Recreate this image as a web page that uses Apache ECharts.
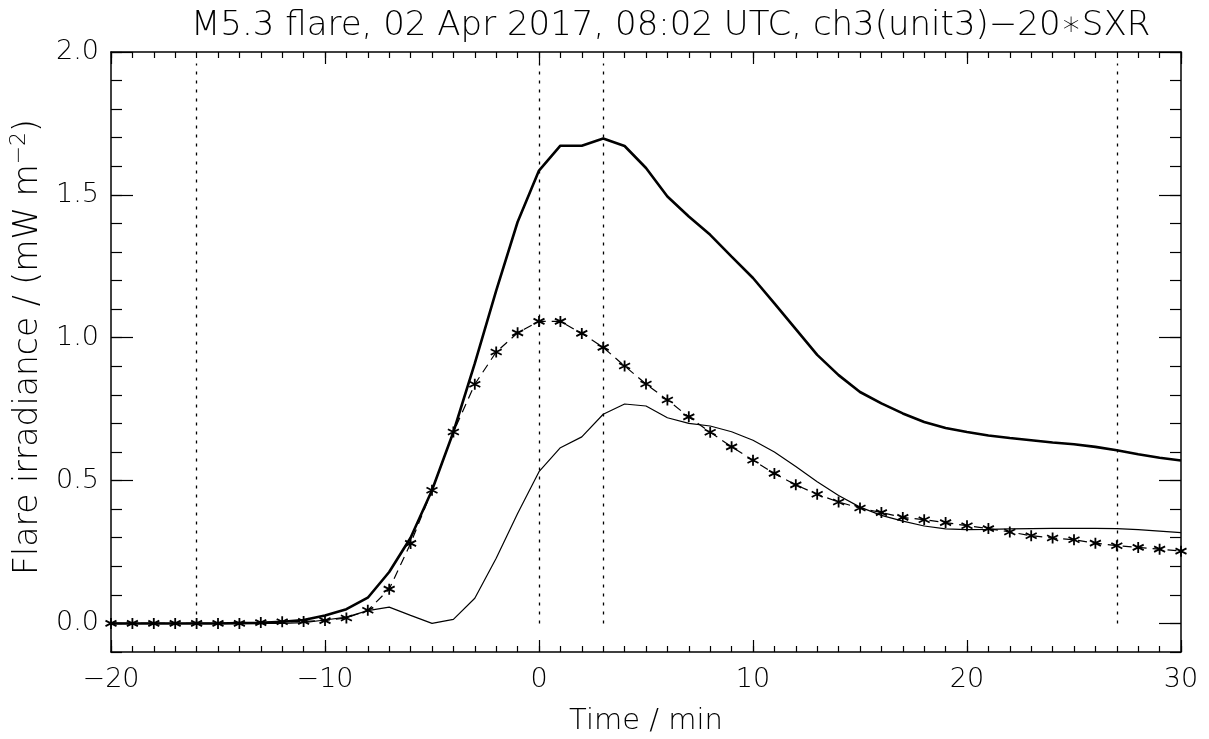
<!DOCTYPE html>
<html>
<head>
<meta charset="utf-8">
<script src="https://cdn.jsdelivr.net/npm/echarts@6/dist/echarts.min.js"></script>
<style>html,body{margin:0;padding:0;background:#fff}#c{width:1209px;height:739px}</style>
</head>
<body>
<div id="c"></div>
<script>
const times = [-20,-19,-18,-17,-16,-15,-14,-13,-12,-11,-10,-9,-8,-7,-6,-5,-4,-3,-2,-1,0,1,2,3,4,5,6,7,8,9,10,11,12,13,14,15,16,17,18,19,20,21,22,23,24,25,26,27,28,29,30];
const ch3Total = [0,0,0,0,0,0,0.001,0.002,0.006,0.012,0.028,0.05,0.09,0.18,0.30,0.466,0.67,0.91,1.165,1.405,1.585,1.672,1.672,1.697,1.671,1.594,1.494,1.424,1.36,1.284,1.209,1.12,1.03,0.94,0.869,0.81,0.77,0.735,0.705,0.684,0.67,0.658,0.649,0.641,0.633,0.627,0.618,0.606,0.592,0.58,0.57];
const ch3Corrected = [0,0,0,0,0,0,0,0,0,0.003,0.012,0.022,0.045,0.057,0.028,0.0,0.014,0.088,0.228,0.385,0.531,0.615,0.653,0.732,0.768,0.761,0.72,0.70,0.691,0.671,0.641,0.60,0.549,0.496,0.448,0.407,0.378,0.358,0.341,0.331,0.328,0.329,0.331,0.332,0.333,0.333,0.333,0.332,0.328,0.323,0.318];
const sxrScaled = [0,0,0,0,0,0,0,0.003,0.006,0.007,0.01,0.019,0.046,0.12,0.28,0.466,0.67,0.837,0.95,1.017,1.057,1.057,1.015,0.966,0.901,0.838,0.782,0.723,0.669,0.618,0.571,0.525,0.485,0.452,0.425,0.404,0.388,0.371,0.363,0.353,0.342,0.332,0.32,0.307,0.299,0.293,0.281,0.272,0.266,0.26,0.253];
const markerTimes = [-16,0,3,27];
const xTickLabels = [-20,-10,0,10,20,30];
const yTickLabels = [0,0.5,1.0,1.5,2.0];
const titleText = 'M5.3 flare, 02 Apr 2017, 08:02 UTC, ch3(unit3)\u221220\u2217SXR';

const FONT = 'DejaVu Sans';
const W = 200;
const pair = (xs, ys) => xs.map((x, i) => [x, ys[i]]);
const minus = v => String(v).replace('-', '\u2212');

const xBase = {type:'value', min:-20, max:30, splitLine:{show:false}};
const yBase = {type:'value', min:-0.1, max:2.0, splitLine:{show:false}};
const line = show => ({show:show, onZero:false, lineStyle:{color:'#000', width:1.5}});
const tick = (len, extra) => Object.assign({show:true, inside:true, length:len, lineStyle:{color:'#000', width:1.2}}, extra || {});

const chart = echarts.init(document.getElementById('c'));
chart.setOption({
  backgroundColor:'#fff',
  animation:false,
  title:{text:titleText, left:186, top:4,
    textStyle:{fontFamily:FONT, fontSize:34, fontWeight:W, color:'#000'}},
  grid:{left:111, right:28, top:52, bottom:87, containLabel:false, outerBoundsMode:'none'},
  xAxis:[
    Object.assign({}, xBase, {position:'bottom', interval:10, axisLine:line(true),
      axisTick:tick(12),
      axisLabel:{show:true, margin:14, fontFamily:FONT, fontSize:27, fontWeight:W, color:'#000',
        customValues:xTickLabels, formatter:v => minus(v)},
      name:'Time / min', nameLocation:'middle', nameGap:55,
      nameTextStyle:{fontFamily:FONT, fontSize:29, fontWeight:W, color:'#000'}}),
    Object.assign({}, xBase, {position:'bottom', interval:1, axisLine:line(false), axisLabel:{show:false},
      axisTick:tick(6)}),
    Object.assign({}, xBase, {position:'top', interval:10, axisLine:line(true), axisLabel:{show:false},
      axisTick:tick(12)}),
    Object.assign({}, xBase, {position:'top', interval:1, axisLine:line(false), axisLabel:{show:false},
      axisTick:tick(6)})
  ],
  yAxis:[
    Object.assign({}, yBase, {position:'left', axisLine:line(true),
      axisTick:tick(22, {customValues:yTickLabels}),
      axisLabel:{show:true, margin:12, fontFamily:FONT, fontSize:27, fontWeight:W, color:'#000',
        customValues:yTickLabels, formatter:v => v.toFixed(1)},
      name:'Flare irradiance / (mW m{sup|\u22122})', nameLocation:'middle', nameGap:62, nameRotate:90,
      nameTextStyle:{fontFamily:FONT, fontSize:33, fontWeight:W, color:'#000', padding:[0,0,0,10],
        rich:{sup:{fontFamily:FONT, fontSize:22, fontWeight:W, color:'#000', verticalAlign:'top', padding:[0,0,18,0]}}}}),
    Object.assign({}, yBase, {position:'left', interval:0.1, axisLine:line(false), axisLabel:{show:false},
      axisTick:tick(11)}),
    Object.assign({}, yBase, {position:'right', axisLine:line(true), axisLabel:{show:false},
      axisTick:tick(22, {customValues:yTickLabels})}),
    Object.assign({}, yBase, {position:'right', interval:0.1, axisLine:line(false), axisLabel:{show:false},
      axisTick:tick(11)})
  ],
  series:[
    {type:'line', name:'events', data:[], xAxisIndex:0, yAxisIndex:0, silent:true,
      markLine:{symbol:['none','none'], silent:true, label:{show:false},
        lineStyle:{color:'#000', width:1.3, type:[3,6]},
        data:markerTimes.map(t => [{coord:[t, 0]}, {coord:[t, 1.96]}])}},
    {type:'line', name:'ch3', data:pair(times, ch3Total), xAxisIndex:0, yAxisIndex:0,
      showSymbol:false, lineStyle:{color:'#000', width:2.6}},
    {type:'line', name:'ch3-20*SXR', data:pair(times, ch3Corrected), xAxisIndex:0, yAxisIndex:0,
      showSymbol:false, lineStyle:{color:'#000', width:1.2}},
    {type:'line', name:'20*SXR', data:pair(times, sxrScaled), xAxisIndex:0, yAxisIndex:0,
      symbol:'path://M0,-5L0,5M-4.33,-2.5L4.33,2.5M-4.33,2.5L4.33,-2.5', symbolSize:11, showSymbol:true,
      itemStyle:{color:'none', borderColor:'#000', borderWidth:1.8},
      lineStyle:{color:'#000', width:1.2, type:[9,6]}}
  ]
});
</script>
</body>
</html>
